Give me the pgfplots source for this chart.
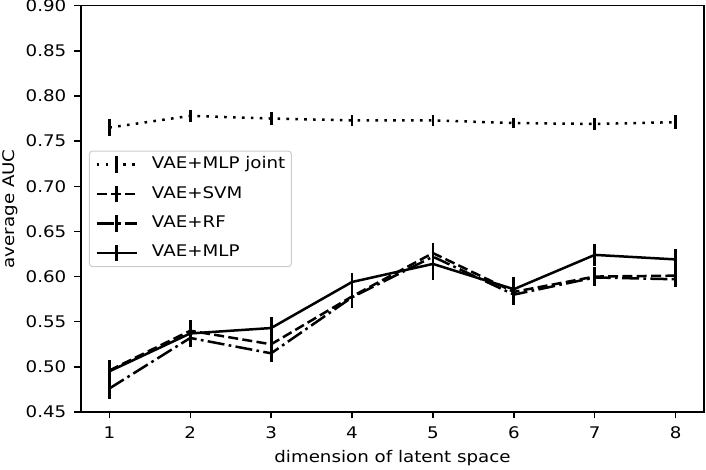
\documentclass[border=0pt]{standalone}
\usepackage{fontspec}
\setmainfont{DejaVu Sans}[FakeStretch=1.14]
\usepackage{pgfplots}
\pgfplotsset{compat=1.18}
\begin{document}
\fontsize{16}{19}\selectfont
\begin{tikzpicture}
\useasboundingbox (-81pt,-58pt) rectangle (625pt,412pt);
\begin{axis}[
  at={(0,0)}, anchor=south west, scale only axis,
  width=623pt, height=406.3pt,
  xmin=0.65, xmax=8.35, ymin=0.45, ymax=0.90,
  xtick={1,2,3,4,5,6,7,8},
  ytick={0.45,0.50,0.55,0.60,0.65,0.70,0.75,0.80,0.85,0.90},
  scaled y ticks=false,
  y tick label style={/pgf/number format/.cd,fixed,fixed zerofill,precision=2,/tikz/.cd},
  /pgf/number format/assume math mode=true,
  tick pos=left, tick align=outside, major tick length=6.5pt,
  tick style={black, line width=1.4pt},
  axis line style={line width=1.6pt},
  every tick label/.append style={font=\fontsize{16}{19}\selectfont},
  xticklabel style={inner sep=0pt, anchor=north, yshift=-8pt},
  yticklabel style={inner sep=0pt, anchor=east, xshift=-8pt},
  xlabel={dimension of latent space},
  ylabel={average AUC},
  xlabel style={at={(axis description cs:0.5,-0.113)}, anchor=center, font=\fontsize{16}{19}\selectfont},
  ylabel style={at={(axis description cs:-0.114,0.5)}, anchor=center, font=\fontsize{16}{19}\selectfont},
  legend style={at={(axis description cs:0,0.5)}, anchor=west, xshift=8pt,
    draw=black!20, line width=1pt, rounded corners=3pt, fill=white,
    inner xsep=6pt, inner ysep=4pt, row sep=10pt,
    font=\fontsize{16}{19}\selectfont,
    nodes={inner sep=0pt, text height=12pt, text depth=4pt},
    /tikz/every odd column/.append style={column sep=14pt}},
  legend cell align=left,
]
% VAE+MLP joint (dotted)
\addplot[black, line width=2.5pt, dash pattern=on 2.6pt off 6.3pt,
  legend image code/.code={\draw[black,line width=2.5pt,dash pattern=on 2.6pt off 6.3pt] (0pt,0pt)--(40pt,0pt); \draw[black,solid,line width=2.8pt] (20pt,-8.3pt)--(20pt,8.3pt);},
  error bars/.cd, y dir=both, y explicit, error mark=none,
  error bar style={line width=2.8pt, solid}]
coordinates {
(1,0.765) +- (0,0.009)
(2,0.778) +- (0,0.007)
(3,0.775) +- (0,0.007)
(4,0.773) +- (0,0.006)
(5,0.773) +- (0,0.006)
(6,0.770) +- (0,0.006)
(7,0.769) +- (0,0.007)
(8,0.771) +- (0,0.008)
};
\addlegendentry{VAE+MLP joint}
% VAE+SVM (dashed)
\addplot[black, line width=2.5pt, dash pattern=on 10pt off 4.3pt,
  legend image code/.code={\draw[black,line width=2.5pt,dash pattern=on 10pt off 4.3pt] (0pt,0pt)--(40pt,0pt); \draw[black,solid,line width=2.8pt] (20pt,-8.3pt)--(20pt,8.3pt);},
  error bars/.cd, y dir=both, y explicit, error mark=none,
  error bar style={line width=2.8pt, solid}]
coordinates {
(1,0.496) +- (0,0.010)
(2,0.540) +- (0,0.010)
(3,0.525) +- (0,0.010)
(4,0.578) +- (0,0.012)
(5,0.626) +- (0,0.011)
(6,0.583) +- (0,0.010)
(7,0.600) +- (0,0.011)
(8,0.601) +- (0,0.010)
};
\addlegendentry{VAE+SVM}
% VAE+RF (dash-dot)
\addplot[black, line width=2.5pt, dash pattern=on 17pt off 4.3pt on 2.7pt off 4.3pt,
  legend image code/.code={\draw[black,line width=2.5pt,dash pattern=on 17pt off 4.3pt on 2.7pt off 4.3pt] (0pt,0pt)--(40pt,0pt); \draw[black,solid,line width=2.8pt] (20pt,-8.3pt)--(20pt,8.3pt);},
  error bars/.cd, y dir=both, y explicit, error mark=none,
  error bar style={line width=2.8pt, solid}]
coordinates {
(1,0.476) +- (0,0.012)
(2,0.532) +- (0,0.010)
(3,0.515) +- (0,0.010)
(4,0.577) +- (0,0.012)
(5,0.622) +- (0,0.010)
(6,0.580) +- (0,0.012)
(7,0.599) +- (0,0.010)
(8,0.597) +- (0,0.009)
};
\addlegendentry{VAE+RF}
% VAE+MLP (solid)
\addplot[black, line width=2.5pt, solid,
  legend image code/.code={\draw[black,line width=2.5pt] (0pt,0pt)--(40pt,0pt); \draw[black,solid,line width=2.8pt] (20pt,-8.3pt)--(20pt,8.3pt);},
  error bars/.cd, y dir=both, y explicit, error mark=none,
  error bar style={line width=2.8pt, solid}]
coordinates {
(1,0.495) +- (0,0.013)
(2,0.537) +- (0,0.015)
(3,0.543) +- (0,0.012)
(4,0.594) +- (0,0.010)
(5,0.614) +- (0,0.018)
(6,0.586) +- (0,0.014)
(7,0.624) +- (0,0.012)
(8,0.619) +- (0,0.012)
};
\addlegendentry{VAE+MLP}
\end{axis}
\end{tikzpicture}
\end{document}
